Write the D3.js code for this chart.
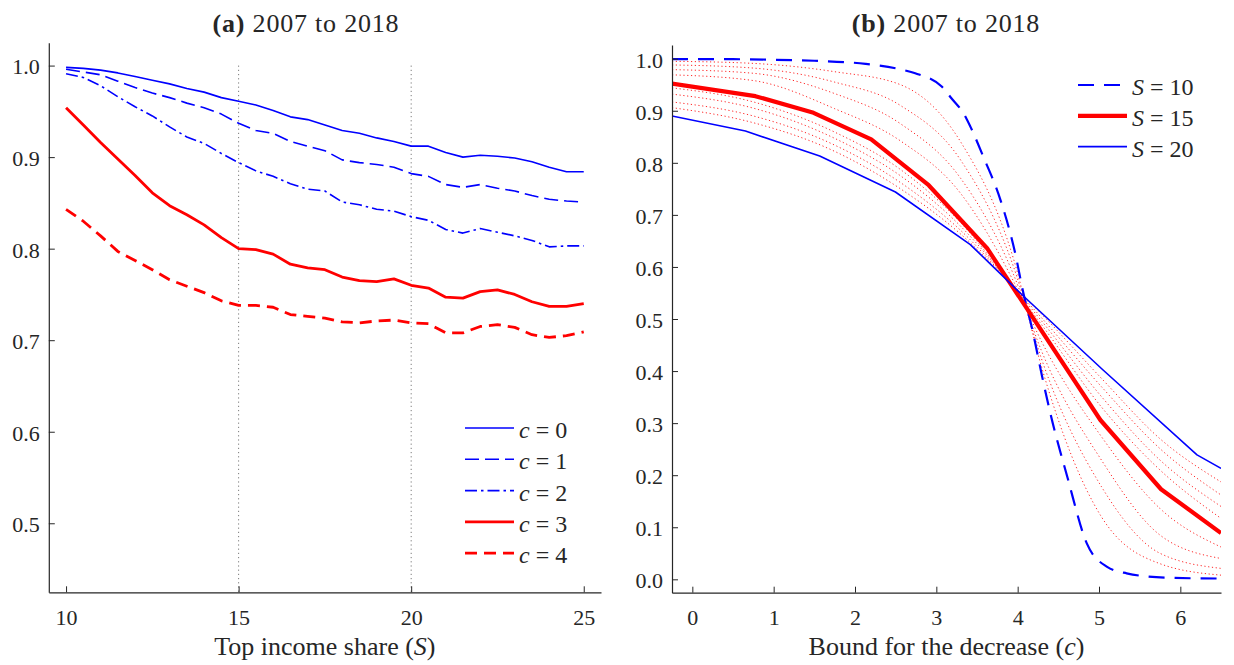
<!DOCTYPE html>
<html>
<head>
<meta charset="utf-8">
<script src="https://cdn.jsdelivr.net/npm/d3@7"></script>
<style>
  body { margin: 0; background: #fff; }
  svg { display: block; }
  svg text { font-family: "Liberation Serif", "DejaVu Serif", serif !important; fill: #262626; }
</style>
</head>
<body>
<svg id="chart" width="1234" height="665" font-family="Liberation Serif"></svg>
<script>
// ---------- Panel (a): share retained vs. top income share S ----------
const shareS = [10, 10.5, 11, 11.5, 12, 12.5, 13, 13.5, 14, 14.5, 15, 15.5, 16, 16.5, 17, 17.5,
                18, 18.5, 19, 19.5, 20, 20.5, 21, 21.5, 22, 22.5, 23, 23.5, 24, 24.5, 25];
const valC0 = [0.998, 0.997, 0.995, 0.992, 0.988, 0.984, 0.980, 0.975, 0.971, 0.965, 0.961, 0.957, 0.951, 0.944, 0.941, 0.935,
               0.929, 0.926, 0.921, 0.917, 0.912, 0.912, 0.905, 0.900, 0.902, 0.901, 0.899, 0.895, 0.889, 0.884, 0.884];
const valC1 = [0.996, 0.993, 0.990, 0.983, 0.976, 0.970, 0.965, 0.959, 0.954, 0.947, 0.937, 0.929, 0.926, 0.917, 0.912, 0.907,
               0.897, 0.894, 0.892, 0.889, 0.882, 0.879, 0.870, 0.867, 0.870, 0.866, 0.863, 0.858, 0.854, 0.852, 0.851];
const valC2 = [0.991, 0.987, 0.978, 0.966, 0.955, 0.945, 0.933, 0.922, 0.915, 0.904, 0.894, 0.885, 0.879, 0.871, 0.865, 0.863,
               0.851, 0.848, 0.843, 0.841, 0.835, 0.831, 0.821, 0.817, 0.822, 0.818, 0.814, 0.809, 0.802, 0.803, 0.803];
const valC3 = [0.954, 0.935, 0.916, 0.898, 0.880, 0.861, 0.847, 0.837, 0.826, 0.812, 0.800, 0.799, 0.794, 0.783, 0.779, 0.777,
               0.769, 0.765, 0.764, 0.767, 0.760, 0.757, 0.747, 0.746, 0.753, 0.755, 0.750, 0.742, 0.737, 0.737, 0.740];
const valC4 = [0.843, 0.830, 0.814, 0.797, 0.787, 0.777, 0.766, 0.759, 0.752, 0.743, 0.738, 0.738, 0.736, 0.728, 0.726, 0.724,
               0.720, 0.719, 0.721, 0.722, 0.719, 0.718, 0.708, 0.708, 0.715, 0.717, 0.714, 0.706, 0.703, 0.705, 0.709];
const seriesALabels = ["0", "1", "2", "3", "4"];
const ticksAX = [10, 15, 20, 25];
const ticksAY = [0.5, 0.6, 0.7, 0.8, 0.9, 1.0];
const markersS = [15, 20];

// ---------- Panel (b): share retained vs. bound c ----------
const curveS10 = [[-0.25, 0.999], [0.5, 0.999], [1.0, 0.998], [1.5, 0.996], [2.13, 0.990], [2.6, 0.978], [2.74, 0.972],
                  [3.07, 0.946], [3.17, 0.927], [3.36, 0.888], [3.42, 0.869], [3.58, 0.811], [3.79, 0.728], [3.97, 0.626],
                  [4.07, 0.550], [4.18, 0.480], [4.30, 0.390], [4.40, 0.320], [4.61, 0.197], [4.85, 0.069], [5.1, 0.024],
                  [5.34, 0.0115], [5.84, 0.003], [6.5, 0.0015]];
const curveS15 = [[-0.25, 0.952], [0.776, 0.928], [1.49, 0.896], [2.2, 0.845], [2.906, 0.757], [3.624, 0.636],
                  [5.017, 0.306], [5.763, 0.173], [6.5, 0.089]];
const curveS20 = [[-0.25, 0.890], [0.653, 0.861], [1.566, 0.813], [2.497, 0.744], [3.418, 0.643], [4.05, 0.547],
                  [5.05, 0.402], [6.205, 0.239], [6.5, 0.213]];
// intermediate S values, sampled on a shared c grid
const gridC = [-0.25, 0.75, 1.75, 2.56, 3.3, 3.95, 4.29, 5.03, 5.75, 6.5];
const valS11 = [0.995, 0.991, 0.975, 0.950, 0.840, 0.615, 0.410, 0.120, 0.030, 0.008];
const valS12 = [0.988, 0.982, 0.955, 0.910, 0.805, 0.600, 0.425, 0.178, 0.050, 0.021];
const valS13 = [0.979, 0.972, 0.933, 0.875, 0.770, 0.585, 0.440, 0.229, 0.085, 0.040];
const valS14 = [0.969, 0.958, 0.904, 0.842, 0.741, 0.572, 0.458, 0.274, 0.136, 0.062];
const valS16 = [0.944, 0.917, 0.859, 0.787, 0.685, 0.560, 0.490, 0.331, 0.210, 0.117];
const valS17 = [0.932, 0.905, 0.847, 0.775, 0.678, 0.561, 0.497, 0.351, 0.229, 0.140];
const valS18 = [0.917, 0.890, 0.834, 0.762, 0.670, 0.562, 0.503, 0.370, 0.251, 0.162];
const valS19 = [0.906, 0.877, 0.822, 0.750, 0.663, 0.563, 0.510, 0.386, 0.270, 0.187];
const seriesBLabels = ["10", "15", "20"];
const ticksBX = [0, 1, 2, 3, 4, 5, 6];
const ticksBY = [0, 0.1, 0.2, 0.3, 0.4, 0.5, 0.6, 0.7, 0.8, 0.9, 1.0];

const BLUE = "#0000ff", RED = "#ff0000", INK = "#262626";
const SERIF = '"Liberation Serif", serif';
const svg = d3.select("#chart");

function drawAxes(g, x, y, xt, yt, fmtX, fmtY) {
  const gx = g.append("g").attr("transform", `translate(0,${y.range()[0]})`)
    .call(d3.axisBottom(x).tickValues(xt).tickFormat(fmtX).tickSizeInner(-6).tickSizeOuter(0).tickPadding(17));
  const gy = g.append("g").attr("transform", `translate(${x.range()[0]},0)`)
    .call(d3.axisLeft(y).tickValues(yt).tickFormat(fmtY).tickSizeInner(-6).tickSizeOuter(0).tickPadding(9));
  [gx, gy].forEach(a => {
    a.attr("font-family", SERIF);
    a.selectAll("path.domain").attr("stroke", INK).attr("stroke-width", 1.2);
    a.selectAll(".tick line").attr("stroke", INK).attr("stroke-width", 1);
    a.selectAll(".tick text").style("font-size", "22px").attr("fill", INK);
  });
  gy.selectAll(".tick text").attr("dy", "0.38em");
}

function title(cx, label) {
  const t = svg.append("text").attr("x", cx).attr("y", 31.5).attr("text-anchor", "middle")
    .style("font-size", "26px").style("letter-spacing", "0.8px").attr("fill", "#111");
  t.append("tspan").attr("font-weight", "bold").text(label);
  t.append("tspan").text(" 2007 to 2018");
}

function axisLabel(g, cx, before, symbol, after) {
  const t = g.append("text").attr("x", cx).attr("y", 655).attr("text-anchor", "middle").style("font-size", "26px");
  t.append("tspan").text(before);
  t.append("tspan").attr("font-style", "italic").text(symbol);
  t.append("tspan").text(after);
}

function legendEntry(lg, x0, yy, s, symbol, value) {
  lg.append("line").attr("x1", x0).attr("x2", x0 + 49).attr("y1", yy).attr("y2", yy)
    .attr("stroke", s.color).attr("stroke-width", s.w).attr("stroke-dasharray", s.dash);
  const t = lg.append("text").attr("x", x0 + 54).attr("y", yy + 10).style("font-size", "24px");
  t.append("tspan").attr("font-style", "italic").text(symbol);
  t.append("tspan").attr("dx", 6).text("=");
  t.append("tspan").attr("dx", 6).text(value);
}

// ---------- Panel (a) ----------
{
  const x = d3.scaleLinear().domain([9.5, 25.5]).range([48.8, 601]);
  const y = d3.scaleLinear().domain([0.4246, 1.025]).range([592.3, 42.7]);
  const g = svg.append("g");
  svg.append("clipPath").attr("id", "clipA").append("rect")
    .attr("x", x.range()[0]).attr("y", y.range()[1]).attr("width", x.range()[1] - x.range()[0]).attr("height", y.range()[0] - y.range()[1]);

  // reference lines at S = 15 and S = 20
  g.selectAll("line.mark").data(markersS).join("line")
    .attr("x1", d => x(d)).attr("x2", d => x(d)).attr("y1", y(1.0)).attr("y2", y.range()[0])
    .attr("stroke", "#7a7a7a").attr("stroke-width", 1).attr("stroke-dasharray", "1.2,3");

  const styles = [
    { vals: valC0, color: BLUE, w: 1.6, dash: null },
    { vals: valC1, color: BLUE, w: 1.6, dash: "14,6" },
    { vals: valC2, color: BLUE, w: 1.6, dash: "12,4,2.5,4" },
    { vals: valC3, color: RED, w: 2.8, dash: null },
    { vals: valC4, color: RED, w: 2.8, dash: "12,7" }
  ];
  const line = d3.line().x((d, i) => x(shareS[i])).y(d => y(d));
  const lines = g.append("g").attr("clip-path", "url(#clipA)");
  styles.forEach(s => {
    lines.append("path").datum(s.vals).attr("d", line).attr("fill", "none")
      .attr("stroke", s.color).attr("stroke-width", s.w).attr("stroke-dasharray", s.dash)
      .attr("stroke-linejoin", "round");
  });

  drawAxes(g, x, y, ticksAX, ticksAY, d3.format("d"), d3.format(".1f"));

  const lg = g.append("g");
  styles.forEach((s, i) => legendEntry(lg, 465, 428 + i * 31.3, s, "c", seriesALabels[i]));

  axisLabel(g, (x.range()[0] + x.range()[1]) / 2, "Top income share (", "S", ")");
  title(306, "(a)");
}

// ---------- Panel (b) ----------
{
  const x = d3.scaleLinear().domain([-0.25, 6.5]).range([672, 1221]);
  const y = d3.scaleLinear().domain([-0.0257, 1.0263]).range([592.7, 45]);
  const g = svg.append("g");
  svg.append("clipPath").attr("id", "clipB").append("rect")
    .attr("x", x.range()[0]).attr("y", y.range()[1]).attr("width", x.range()[1] - x.range()[0]).attr("height", y.range()[0] - y.range()[1]);
  const lines = g.append("g").attr("clip-path", "url(#clipB)");

  const smooth = d3.line().x((d, i) => x(gridC[i])).y(d => y(d)).curve(d3.curveMonotoneX);
  [valS11, valS12, valS13, valS14, valS16, valS17, valS18, valS19].forEach(v => {
    lines.append("path").datum(v).attr("d", smooth).attr("fill", "none")
      .attr("stroke", RED).attr("stroke-width", 1).attr("stroke-dasharray", "1.2,2.6").attr("opacity", 0.85);
  });

  const pairLine = d3.line().x(d => x(d[0])).y(d => y(d[1]));
  const pairSmooth = d3.line().x(d => x(d[0])).y(d => y(d[1])).curve(d3.curveMonotoneX);
  const bStyles = [
    { data: curveS10, color: BLUE, w: 2.2, dash: "16,10", gen: pairSmooth },
    { data: curveS15, color: RED, w: 4.2, dash: null, gen: pairLine },
    { data: curveS20, color: BLUE, w: 1.6, dash: null, gen: pairLine }
  ];
  bStyles.forEach(s => {
    lines.append("path").datum(s.data).attr("d", s.gen).attr("fill", "none")
      .attr("stroke", s.color).attr("stroke-width", s.w).attr("stroke-dasharray", s.dash)
      .attr("stroke-linejoin", "round");
  });

  drawAxes(g, x, y, ticksBX, ticksBY, d3.format("d"), d3.format(".1f"));

  const lg = g.append("g");
  bStyles.forEach((s, i) => legendEntry(lg, 1078, 85 + i * 30.8, s, "S", seriesBLabels[i]));

  axisLabel(g, (x.range()[0] + x.range()[1]) / 2, "Bound for the decrease (", "c", ")");
  title(946, "(b)");
}
</script>
</body>
</html>
